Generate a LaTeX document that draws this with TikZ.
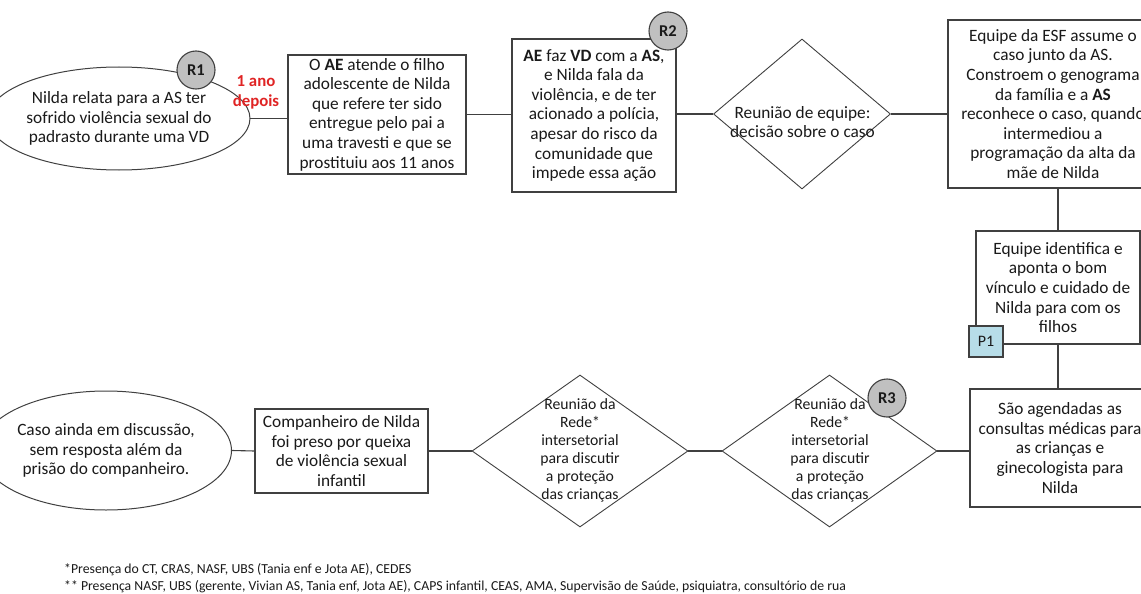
\documentclass[tikz,border=0pt]{standalone}
\usepackage{fontspec}
\setmainfont{Carlito}
\usetikzlibrary{shapes.geometric}
\definecolor{lc}{HTML}{404040}
\definecolor{circfill}{HTML}{C0C0C0}
\definecolor{pfill}{HTML}{B7DDE8}
\definecolor{redtxt}{HTML}{E02424}
\definecolor{txt}{HTML}{1A1A1A}
\begin{document}
\begin{tikzpicture}[x=1pt,y=-1pt,
  every node/.style={text=txt, font=\fontsize{17.3}{19.6}\selectfont, inner sep=0pt, align=center},
  box/.style={draw=lc, line width=1.1pt, rectangle},
  oval/.style={draw=lc, line width=1pt, ellipse},
  rhomb/.style={draw=lc, line width=0.9pt, diamond},
  badge/.style={draw=lc, line width=1.1pt, circle, fill=circfill, minimum size=38pt, font=\fontsize{16.5}{18}\selectfont\bfseries},
  pbadge/.style={draw=lc, line width=1.1pt, rectangle, fill=pfill, minimum width=34pt, minimum height=31pt, font=\fontsize{16}{18}\selectfont},
  dtext/.style={font=\fontsize{15.7}{18}\selectfont},
  note/.style={anchor=west, font=\fontsize{13.75}{17}\selectfont},
  link/.style={draw=lc, line width=1.1pt}
]
\fill[white] (0,0) rectangle (1141,594);
\clip (0,0) rectangle (1141,594);

% top row
\node[oval, minimum width=218pt, minimum height=103pt] (e1) at (119,118.5) {Nilda relata para a AS ter\\sofrido violência sexual do\\padrasto durante uma VD};
\node[font=\fontsize{16.8}{20}\selectfont\bfseries, text=redtxt] (gap) at (256,92) {1 ano\\depois};
\node[box, minimum width=178pt, minimum height=119pt] (b1) at (377,114.5) {O \textbf{AE} atende o filho\\adolescente de Nilda\\que refere ter sido\\entregue pelo pai a\\uma travesti e que se\\prostituiu aos 11 anos};
\node[box, minimum width=164pt, minimum height=153pt] (b2) at (594,115.5) {\textbf{AE} faz \textbf{VD} com a \textbf{AS},\\e Nilda fala da\\violência, e de ter\\acionado a polícia,\\apesar do risco da\\comunidade que\\impede essa ação};
\node[rhomb, minimum width=177pt, minimum height=150pt] (d1) at (802,114) {};
\node (d1t) at (802.5,122) {Reunião de equipe:\\decisão sobre o caso};
\node[box, minimum width=210pt, minimum height=168pt] (b3) at (1053,104) {Equipe da ESF assume o\\caso junto da AS.\\Constroem o genograma\\da família e a \textbf{AS}\\reconhece o caso, quando\\intermediou a\\programação da alta da\\mãe de Nilda};

% right column
\node[box, minimum width=164pt, minimum height=113pt] (b4) at (1058,287.5) {Equipe identifica e\\aponta o bom\\vínculo e cuidado de\\Nilda para com os\\filhos};
\node[box, minimum width=180pt, minimum height=118pt] (b5) at (1060,448) {São agendadas as\\consultas médicas para\\as crianças e\\ginecologista para\\Nilda};

% bottom row
\node[rhomb, minimum width=215pt, minimum height=152pt] (d3) at (829.5,451) {};
\node[dtext] (d3t) at (830,450) {Reunião da\\Rede*\\intersetorial\\para discutir\\a proteção\\das crianças};
\node[rhomb, minimum width=216pt, minimum height=152pt] (d2) at (580,451) {};
\node[dtext] (d2t) at (580,450) {Reunião da\\Rede*\\intersetorial\\para discutir\\a proteção\\das crianças};
\node[box, minimum width=173pt, minimum height=84pt] (b6) at (341.5,451) {Companheiro de Nilda\\foi preso por queixa\\de violência sexual\\infantil};
\node[oval, minimum width=192pt, minimum height=119pt] (e2) at (106,450.5) {Caso ainda em discussão,\\sem resposta além da\\prisão do companheiro.};

% connectors
\draw[link] (e1.east) -- (e1.east -| b1.west);
\draw[link] (b1.east) -- (b1.east -| b2.west);
\draw[link] (d1.west -| b2.east) -- (d1.west);
\draw[link] (d1.east) -- (d1.east -| b3.west);
\draw[link] (b4.north |- b3.south) -- (b4.north);
\draw[link] (b4.south) -- (b4.south |- b5.north);
\draw[link] (d3.east) -- (d3.east -| b5.west);
\draw[link] (d2.east) -- (d3.west);
\draw[link] (b6.east) -- (d2.west);
\draw[link] (e2.east) -- (b6.west);

% badges
\node[badge] (r1) at (196,70) {R1};
\node[badge] (r2) at (668,31) {R2};
\node[badge] (r3) at (887,398) {R3};
\node[pbadge] (p1) at (986,341.5) {P1};

% notes
\node[note] (fn1) at (64,570) {*Presença do CT, CRAS, NASF, UBS (Tania enf e Jota AE), CEDES};
\node[note] (fn2) at (64,587) {** Presença NASF, UBS (gerente, Vivian AS, Tania enf, Jota AE), CAPS infantil, CEAS, AMA, Supervisão de Saúde, psiquiatra, consultório de rua};
\end{tikzpicture}
\end{document}
